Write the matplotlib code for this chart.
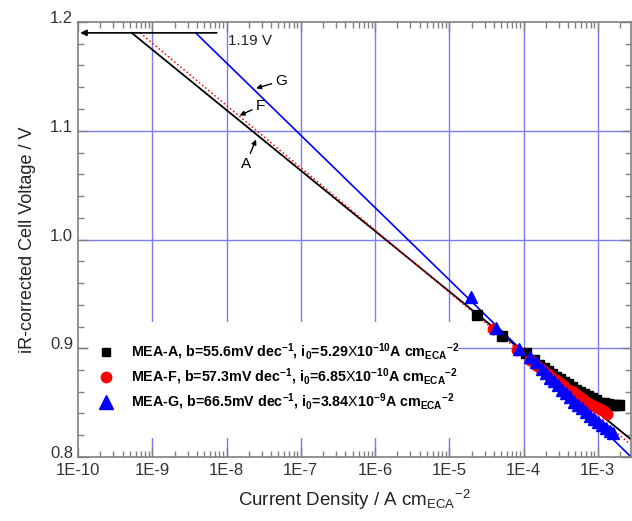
import numpy as np
import matplotlib
matplotlib.use("Agg")
import matplotlib.pyplot as plt
from matplotlib.patches import Rectangle
from matplotlib.transforms import ScaledTranslation
from matplotlib.ticker import FixedLocator, LogLocator, NullFormatter, MultipleLocator

plt.rcParams['font.family'] = ['Liberation Sans', 'DejaVu Sans']
plt.rcParams['mathtext.fontset'] = 'custom'
plt.rcParams['mathtext.rm'] = 'Liberation Sans'
plt.rcParams['mathtext.bf'] = 'Liberation Sans:bold'
plt.rcParams['mathtext.it'] = 'Liberation Sans:italic'

# measured points (current density A cm-2, iR-corrected voltage V)
j_A = [2.345e-5, 5.087e-5, 1.071e-4, 1.372e-4, 1.602e-4, 1.870e-4, 2.117e-4, 2.396e-4,
       2.712e-4, 3.070e-4, 3.475e-4, 3.934e-4, 4.453e-4, 5.041e-4, 5.706e-4, 6.458e-4,
       7.311e-4, 8.277e-4, 9.369e-4, 1.061e-3, 1.201e-3, 1.359e-3, 1.539e-3, 1.741e-3, 1.911e-3]
v_A = [0.931, 0.911, 0.896, 0.889, 0.885, 0.882, 0.879, 0.876,
       0.874, 0.872, 0.869, 0.867, 0.864, 0.862, 0.860, 0.858,
       0.856, 0.854, 0.852, 0.850, 0.8495, 0.849, 0.848, 0.848, 0.848]

j_F = [3.850e-5, 8.101e-5, 1.212e-4, 1.460e-4, 1.652e-4, 1.870e-4, 2.117e-4, 2.396e-4,
       2.712e-4, 3.070e-4, 3.475e-4, 3.934e-4, 4.453e-4, 5.041e-4, 5.706e-4, 6.458e-4,
       7.311e-4, 8.277e-4, 9.369e-4, 1.061e-3, 1.201e-3, 1.318e-3]
v_F = [0.918, 0.898, 0.889, 0.885, 0.882, 0.879, 0.876, 0.873,
       0.871, 0.868, 0.865, 0.862, 0.861, 0.858, 0.855, 0.852,
       0.850, 0.848, 0.846, 0.844, 0.842, 0.840]

j_G = [1.948e-5, 4.223e-5, 8.616e-5, 1.212e-4, 1.460e-4, 1.758e-4, 1.990e-4, 2.252e-4,
       2.549e-4, 2.886e-4, 3.266e-4, 3.698e-4, 4.185e-4, 4.737e-4, 5.363e-4, 6.070e-4,
       6.871e-4, 7.780e-4, 8.807e-4, 9.970e-4, 1.129e-3, 1.278e-3, 1.446e-3, 1.587e-3]
v_G = [0.947, 0.919, 0.899, 0.892, 0.887, 0.881, 0.877, 0.873,
       0.870, 0.866, 0.862, 0.859, 0.855, 0.851, 0.848, 0.845,
       0.841, 0.838, 0.835, 0.832, 0.829, 0.827, 0.824, 0.822]

# Tafel fit parameters
E_rev = 1.19
b_A, i0_A = 0.0556, 5.29e-10
b_F, i0_F = 0.0573, 6.85e-10
b_G, i0_G = 0.0665, 3.84e-9

x_max = 2.8e-3

lab_A = r"MEA-A, b=55.6mV dec$^{\mathbf{-1}}$, i$_{\mathbf{0}}$=5.29$\mathrm{X}$10$^{\mathbf{-10}}$A cm$_{\mathbf{ECA}}$$^{\mathbf{-2}}$"
lab_F = r"MEA-F, b=57.3mV dec$^{\mathbf{-1}}$, i$_{\mathbf{0}}$=6.85$\mathrm{X}$10$^{\mathbf{-10}}$A cm$_{\mathbf{ECA}}$$^{\mathbf{-2}}$"
lab_G = r"MEA-G, b=66.5mV dec$^{\mathbf{-1}}$, i$_{\mathbf{0}}$=3.84$\mathrm{X}$10$^{\mathbf{-9}}$A cm$_{\mathbf{ECA}}$$^{\mathbf{-2}}$"


def tafel(i0, b):
    jj = np.array([i0, x_max])
    return jj, E_rev - b * np.log10(jj / i0)


fig = plt.figure(figsize=(6.32, 5.21), dpi=100)
ax = fig.add_axes([78 / 632, 64 / 521, 553 / 632, 435 / 521])

ax.set_xscale('log')
ax.set_xlim(1e-10, x_max)
ax.set_ylim(0.8, 1.2)

grid_col = '#7b7bf5'
for d in range(-9, -2):
    ax.axvline(10.0 ** d, color=grid_col, lw=1, zorder=0.5)
for v in [0.9, 1.0, 1.1]:
    ax.axhline(v, color=grid_col, lw=1, zorder=0.5)

# white box behind the legend (hides the grid there)
box = Rectangle((0.018, 0.044), 0.669, 0.266, transform=ax.transAxes,
                facecolor='white', edgecolor='none', zorder=1.5)
ax.add_artist(box)

# fits
jj, vv = tafel(i0_A, b_A)
ax.plot(jj, vv, color='black', lw=1.3, zorder=2)
jj, vv = tafel(i0_F, b_F)
ax.plot(jj, vv, color='red', lw=1.1, ls=':', zorder=2)
jj, vv = tafel(i0_G, b_G)
ax.plot(jj, vv, color='blue', lw=1.2, zorder=2)

# data
ax.plot(j_A, v_A, 's', color='black', ms=6.5, label=lab_A, zorder=3)
ax.plot(j_F, v_F, 'o', color='red', ms=7.5, label=lab_F, zorder=4)
ax.plot(j_G, v_G, '^', color='blue', ms=8, label=lab_G, zorder=5)

# 1.19 V arrow
ax.annotate('', xy=(1.07e-10, E_rev), xytext=(7.4e-9, E_rev),
            arrowprops=dict(arrowstyle='-|>', color='black', lw=1.2, mutation_scale=9,
                            shrinkA=0, shrinkB=0))
ax.text(1.05e-8, 1.1825, '1.19 V', fontsize=11, ha='left', va='center', color='#222222')

arr = dict(arrowstyle='-|>', color='black', lw=1, mutation_scale=7, shrinkA=1, shrinkB=0)
ax.annotate('G', xy=(2.5e-8, 1.139), xytext=(4.6e-8, 1.146), fontsize=11,
            ha='left', va='center', arrowprops=arr)
ax.annotate('F', xy=(1.5e-8, 1.114), xytext=(2.5e-8, 1.123), fontsize=11,
            ha='left', va='center', arrowprops=arr)
ax.annotate('A', xy=(2.5e-8, 1.092), xytext=(1.55e-8, 1.069), fontsize=11,
            ha='left', va='center', arrowprops=arr)

# ticks
ax.xaxis.set_major_locator(FixedLocator([10.0 ** d for d in range(-10, -2)]))
ax.set_xticklabels(['1E%d' % d for d in range(-10, -2)])
ax.xaxis.set_minor_locator(LogLocator(base=10, subs=np.arange(2, 10), numticks=20))
ax.xaxis.set_minor_formatter(NullFormatter())
ax.yaxis.set_minor_locator(MultipleLocator(0.02))
ax.set_yticks([0.8, 0.9, 1.0, 1.1, 1.2])
ax.set_yticklabels(['0.8', '0.9', '1.0', '1.1', '1.2'])

ax.tick_params(which='both', direction='in', top=True, right=True, color='#808080',
               labelcolor='#333333', labelsize=12)
ax.tick_params(which='major', length=7, width=1)
ax.tick_params(which='minor', length=4, width=1)
ax.tick_params(axis='x', which='major', pad=4.5)
for s in ax.spines.values():
    s.set_color('#808080')
    s.set_linewidth(1.2)

ax.set_xlabel(r"Current Density / A cm$_{\mathrm{ECA}}$$^{-2}$", fontsize=13.5, color='#222222',
              labelpad=7)
ax.set_ylabel("iR-corrected Cell Voltage / V", fontsize=13, color='#222222', labelpad=10)

leg = ax.legend(loc='center left', bbox_to_anchor=(0.0326, 0.184), frameon=False,
                prop={'weight': 'bold', 'size': 10.3}, handletextpad=1.05, labelspacing=0.3,
                borderaxespad=0, borderpad=0, handlelength=1.4, numpoints=1)
leg.set_zorder(6)
for h, ms in zip(leg.legend_handles, [6, 7.5, 9.5]):
    h.set_markersize(ms)

# y tick labels sit a little above their ticks in the original
shift = ScaledTranslation(0, 5 / 100, fig.dpi_scale_trans)
for t in ax.get_yticklabels():
    t.set_transform(t.get_transform() + shift)

fig.savefig('out.png', dpi=100)
